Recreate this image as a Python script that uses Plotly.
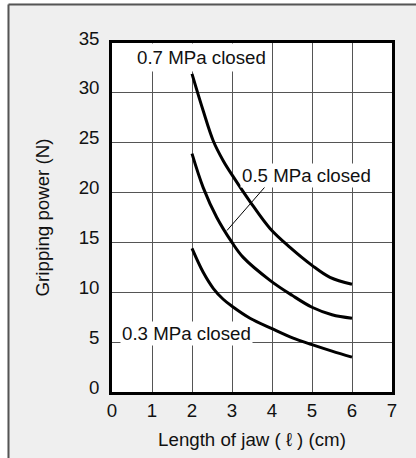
import plotly.graph_objects as go

# Data
x07 = [2.0, 2.28, 2.53, 2.78, 3.03, 3.45, 3.95, 4.45, 5.0, 5.45, 6.0]
y07 = [31.9, 28.2, 25.2, 23.2, 21.6, 19.1, 16.4, 14.5, 12.7, 11.5, 10.8]

x05 = [2.0, 2.28, 2.62, 3.0, 3.28, 3.95, 4.5, 5.0, 5.5, 6.0]
y05 = [23.9, 20.5, 17.5, 15.0, 13.5, 11.2, 9.7, 8.5, 7.75, 7.4]

x03 = [2.0, 2.28, 2.53, 2.78, 3.0, 3.45, 4.0, 4.53, 5.0, 5.5, 6.0]
y03 = [14.4, 12.0, 10.4, 9.3, 8.6, 7.4, 6.35, 5.4, 4.75, 4.1, 3.5]

series = [
    ("0.7 MPa closed", x07, y07),
    ("0.5 MPa closed", x05, y05),
    ("0.3 MPa closed", x03, y03),
]

x_ticks = [0, 1, 2, 3, 4, 5, 6, 7]
y_ticks = [0, 5, 10, 15, 20, 25, 30, 35]

label_text = ["0.7 MPa closed", "0.5 MPa closed", "0.3 MPa closed"]
label_x = [2.24, 4.86, 1.85]
label_y = [33.5, 21.7, 5.9]
label_pad = [3, 1, 1]

leader_from = (3.875, 20.8)
leader_to = (2.875, 16.2)

FONT = "Liberation Sans, Arial, sans-serif"
FS = 18.7

fig = go.Figure()
for name, xs, ys in series:
    fig.add_trace(go.Scatter(
        x=xs, y=ys, mode="lines", name=name,
        line=dict(color="black", width=3, shape="spline", smoothing=1.0),
        showlegend=False, hoverinfo="skip",
    ))

for t, lx, ly, pad in zip(label_text, label_x, label_y, label_pad):
    fig.add_annotation(x=lx, y=ly, xref="x", yref="y", text=t, showarrow=False,
                       bgcolor="white", borderpad=pad,
                       font=dict(family=FONT, size=FS, color="#111"))

fig.add_shape(type="line", xref="x", yref="y",
              x0=leader_from[0], y0=leader_from[1], x1=leader_to[0], y1=leader_to[1],
              line=dict(color="black", width=1))

# outer frame: white outside, grey panel with dark border
L, R, T, B = 112, 24, 43, 66
W, H = 416 - L - R, 458 - T - B
def px(v):
    return (v - L) / W
def py(v):
    return (458 - B - v) / H

fig.add_shape(type="rect", xref="paper", yref="paper", x0=px(-20), x1=px(7.5),
              y0=py(500), y1=py(-20), fillcolor="white", line=dict(width=0), layer="below")
fig.add_shape(type="rect", xref="paper", yref="paper", x0=px(-20), x1=px(440),
              y0=py(3.5), y1=py(-20), fillcolor="white", line=dict(width=0), layer="below")
fig.add_shape(type="line", xref="paper", yref="paper", x0=px(8.5), x1=px(8.5),
              y0=py(4.5), y1=py(500), line=dict(color="#555", width=2), layer="below")
fig.add_shape(type="line", xref="paper", yref="paper", x0=px(8.5), x1=px(440),
              y0=py(4.5), y1=py(4.5), line=dict(color="#555", width=2), layer="below")

axis_common = dict(
    showgrid=True, gridcolor="#555555", gridwidth=1.2,
    showline=True, linecolor="black", linewidth=2.5, mirror=True,
    zeroline=False, ticks="",
    tickfont=dict(family=FONT, size=FS, color="#111"),
)

fig.update_xaxes(range=[0, 7], tickvals=x_ticks, ticktext=[str(v) for v in x_ticks],
                 ticklabelstandoff=0,
                 title=dict(text="Length of jaw ( ℓ ) (cm)", font=dict(family=FONT, size=FS, color="#111"),
                            standoff=13),
                 **axis_common)
fig.update_yaxes(range=[0, 35], tickvals=y_ticks, ticktext=[str(v) for v in y_ticks],
                 ticklabelstandoff=6, ticklabelshift=-5,
                 title=dict(text="Gripping power (N)", font=dict(family=FONT, size=FS, color="#111"),
                            standoff=25),
                 **axis_common)

fig.update_layout(
    width=416, height=458,
    margin=dict(l=L, r=R, t=T, b=B, autoexpand=False),
    paper_bgcolor="#efefef", plot_bgcolor="white",
    font=dict(family=FONT, size=FS, color="#111"),
)

fig.write_html("out.html", config={"displayModeBar": False},
               post_script="document.body.style.margin='0';")
